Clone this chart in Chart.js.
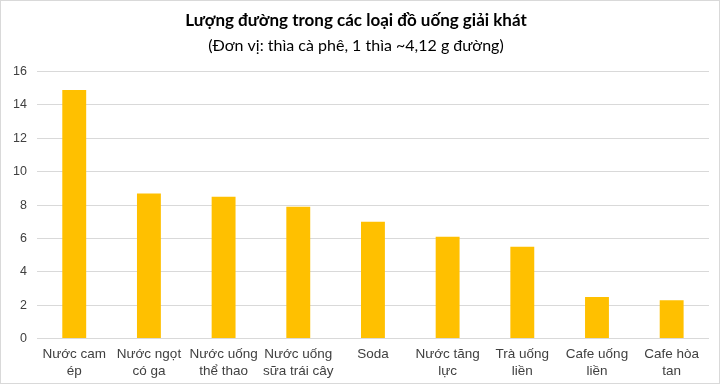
<!DOCTYPE html>
<html><head><meta charset="utf-8">
<script src="https://cdn.jsdelivr.net/npm/chart.js@4/dist/chart.umd.min.js"></script>
<style>
html,body{margin:0;padding:0;background:#fff;}
#wrap{width:718px;height:382px;border:1px solid #d9d9d9;position:relative;}
</style></head>
<body><div id="wrap"><canvas id="c" width="718" height="382"></canvas></div>
<script>
const categories = [["Nước cam","ép"],["Nước ngọt","có ga"],["Nước uống","thể thao"],["Nước uống","sữa trái cây"],["Soda"],["Nước tăng","lực"],["Trà uống","liền"],["Cafe uống","liền"],["Cafe hòa","tan"]];
const sugarValues = [14.9, 8.7, 8.5, 7.9, 7.0, 6.1, 5.5, 2.5, 2.3];
const titleText = "Lượng đường trong các loại đồ uống giải khát";
const subtitleText = "(Đơn vị: thìa cà phê, 1 thìa ~4,12 g đường)";

new Chart(document.getElementById('c'), {
  type: 'bar',
  data: { labels: categories, datasets: [{ data: sugarValues, backgroundColor: '#ffc000', barPercentage: 0.64, categoryPercentage: 0.5 }] },
  options: {
    responsive: false, animation: false,
    layout: { padding: { left: 2, right: 10, top: 5, bottom: 4 } },
    plugins: {
      legend: { display: false }, tooltip: { enabled: false },
      title: { display: true, text: titleText, color: '#000', font: { family: 'Lato', size: 17, weight: 'bold' }, padding: { top: 4, bottom: 4 } },
      subtitle: { display: true, text: subtitleText, color: '#000', font: { family: 'Lato', size: 16 }, padding: { top: 2, bottom: 16 } }
    },
    scales: {
      x: { grid: { display: false }, border: { display: false }, ticks: { color: '#404040', font: { family: 'Liberation Sans', size: 13.5 }, maxRotation: 0, autoSkip: false, padding: 0 } },
      y: { min: 0, max: 16, ticks: { stepSize: 2, color: '#404040', font: { family: 'Liberation Sans', size: 12.5 }, padding: 10 }, grid: { color: '#d9d9d9', drawTicks: false }, border: { display: false } }
    }
  }
});
</script></body></html>
